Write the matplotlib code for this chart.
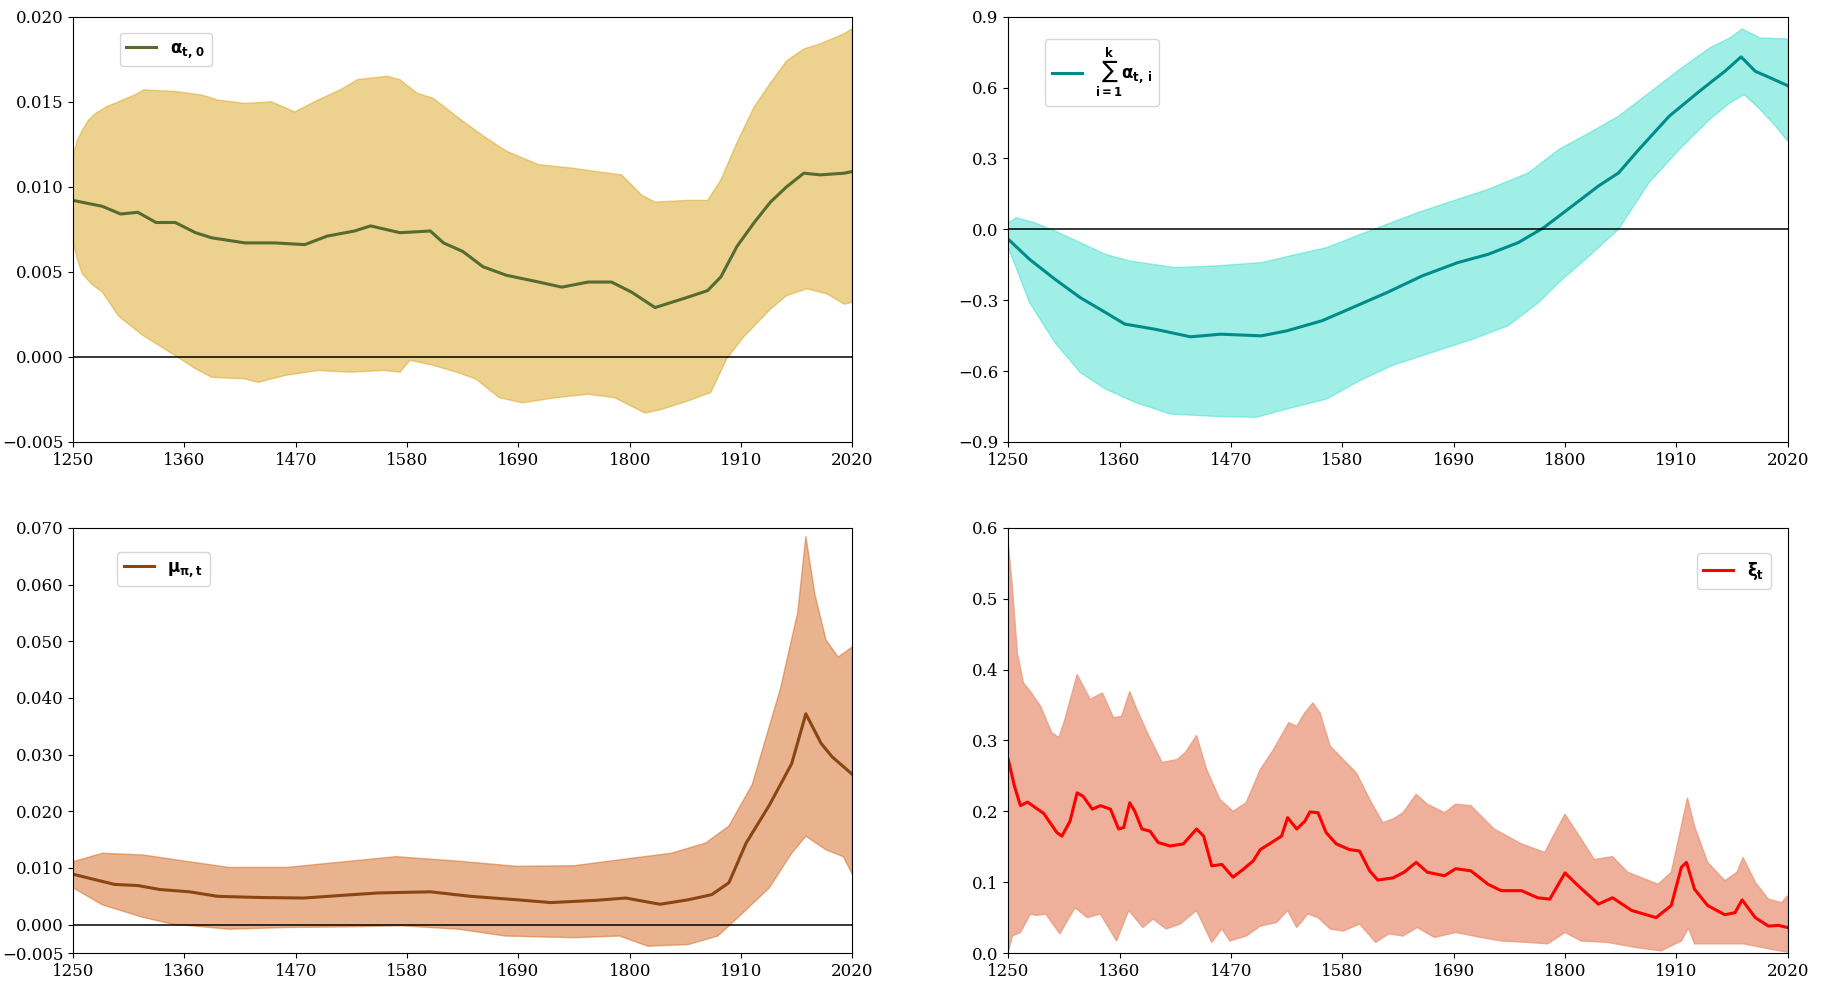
import numpy as np
import matplotlib
matplotlib.use("Agg")
import matplotlib.pyplot as plt
from matplotlib.ticker import FixedLocator, FuncFormatter

plt.rcParams['font.family'] = ['DejaVu Serif']
plt.rcParams['mathtext.fontset'] = 'dejavusans'

xticks = [1250, 1360, 1470, 1580, 1690, 1800, 1910, 2020]

# ---- alpha_{t,0} ----
a0_yr = [1250, 1279, 1297, 1314, 1332, 1351, 1371, 1387, 1420, 1449, 1479, 1501, 1528, 1544,
         1573, 1603, 1616, 1635, 1655, 1678, 1710, 1733, 1759, 1782, 1802, 1825, 1857, 1877,
         1890, 1906, 1923, 1939, 1955, 1972, 1988, 2012, 2020]
a0_mean = [0.0092, 0.00885, 0.0084, 0.0085, 0.0079, 0.0079, 0.0073, 0.0070, 0.0067, 0.0067,
           0.0066, 0.0071, 0.0074, 0.0077, 0.0073, 0.0074, 0.0067, 0.0062, 0.0053, 0.0048,
           0.0044, 0.0041, 0.0044, 0.0044, 0.0038, 0.0029, 0.0035, 0.0039, 0.0047, 0.0065,
           0.0079, 0.0091, 0.0100, 0.0108, 0.0107, 0.0108, 0.0109]
a0_hi_yr = [1250, 1254, 1259, 1265, 1272, 1283, 1295, 1311, 1320, 1351, 1377, 1393, 1420, 1446,
            1469, 1492, 1514, 1531, 1560, 1573, 1590, 1606, 1632, 1655, 1678, 1710, 1743, 1766,
            1792, 1812, 1825, 1857, 1877, 1890, 1906, 1923, 1939, 1955, 1972, 1988, 2012, 2020]
a0_hi = [0.0118, 0.0127, 0.0133, 0.0139, 0.0143, 0.0147, 0.0150, 0.0154, 0.0157, 0.0156,
         0.0154, 0.0151, 0.0149, 0.0150, 0.0144, 0.0151, 0.0157, 0.0163, 0.0165, 0.0163,
         0.0155, 0.0152, 0.0140, 0.0130, 0.0121, 0.0113, 0.0111, 0.0109, 0.0107, 0.0095,
         0.0091, 0.0092, 0.0092, 0.0104, 0.0126, 0.0147, 0.0161, 0.0174, 0.0181, 0.0184,
         0.0190, 0.0193]
a0_lo_yr = [1250, 1254, 1259, 1268, 1279, 1295, 1318, 1345, 1371, 1387, 1420, 1433, 1459, 1492,
            1524, 1557, 1573, 1583, 1606, 1629, 1648, 1671, 1694, 1727, 1759, 1785, 1815, 1831,
            1857, 1880, 1896, 1913, 1939, 1955, 1975, 1995, 2012, 2020]
a0_lo = [0.0068, 0.0058, 0.0049, 0.0043, 0.0038, 0.0024, 0.0013, 0.0003, -0.0007, -0.0012,
         -0.0013, -0.0015, -0.0011, -0.0008, -0.0009, -0.0008, -0.0009, -0.0002, -0.0005,
         -0.0009, -0.0013, -0.0024, -0.0027, -0.0024, -0.0022, -0.0024, -0.0033, -0.0031,
         -0.0026, -0.0021, -0.0001, 0.0012, 0.0028, 0.0036, 0.0040, 0.0037, 0.0031, 0.0032]

# ---- sum alpha_{t,i} ----
sa_yr = [1250, 1271, 1296, 1321, 1346, 1365, 1395, 1430, 1460, 1500, 1525, 1560, 1594, 1624,
         1659, 1694, 1724, 1754, 1779, 1803, 1833, 1853, 1873, 1903, 1933, 1958, 1974, 1988,
         2003, 2020]
sa_mean = [-0.042, -0.127, -0.211, -0.289, -0.352, -0.401, -0.423, -0.455, -0.444, -0.451,
           -0.430, -0.387, -0.324, -0.268, -0.197, -0.141, -0.106, -0.056, 0.007, 0.085,
           0.183, 0.239, 0.338, 0.479, 0.585, 0.669, 0.730, 0.669, 0.641, 0.608]
sa_hi_yr = [1250, 1258, 1276, 1296, 1321, 1346, 1370, 1415, 1455, 1500, 1535, 1565, 1594, 1624,
            1654, 1684, 1724, 1764, 1794, 1824, 1853, 1883, 1913, 1943, 1963, 1975, 1993, 2020]
sa_hi = [0.028, 0.049, 0.028, -0.007, -0.056, -0.106, -0.134, -0.162, -0.155, -0.141, -0.106,
         -0.077, -0.028, 0.021, 0.070, 0.113, 0.169, 0.239, 0.338, 0.408, 0.479, 0.577, 0.676,
         0.768, 0.810, 0.848, 0.810, 0.806]
sa_lo_yr = [1250, 1271, 1296, 1321, 1346, 1375, 1410, 1455, 1495, 1525, 1565, 1594, 1629, 1669,
            1709, 1744, 1774, 1794, 1824, 1853, 1883, 1913, 1943, 1963, 1977, 1993, 2008, 2020]
sa_lo = [-0.077, -0.310, -0.479, -0.606, -0.676, -0.732, -0.782, -0.792, -0.796, -0.761,
         -0.718, -0.648, -0.577, -0.521, -0.465, -0.408, -0.310, -0.225, -0.113, 0.000, 0.197,
         0.338, 0.465, 0.535, 0.570, 0.507, 0.437, 0.373]

# ---- mu_{pi,t} ----
mu_yr = [1250, 1291, 1314, 1336, 1365, 1393, 1433, 1478, 1518, 1552, 1603, 1643, 1688, 1722,
         1767, 1796, 1830, 1858, 1881, 1898, 1915, 1938, 1960, 1974, 1989, 2000, 2020]
mu_mean = [0.0089, 0.0071, 0.0069, 0.0062, 0.0058, 0.0050, 0.0048, 0.0047, 0.0052, 0.0056,
           0.0058, 0.0050, 0.0044, 0.0039, 0.0043, 0.0047, 0.0036, 0.0044, 0.0053, 0.0074,
           0.0144, 0.0211, 0.0284, 0.0372, 0.0320, 0.0296, 0.0265]
mu_hi_yr = [1250, 1279, 1319, 1365, 1404, 1461, 1518, 1569, 1631, 1688, 1745, 1801, 1841, 1875,
            1898, 1921, 1949, 1966, 1974, 1983, 1994, 2006, 2020]
mu_hi = [0.0111, 0.0126, 0.0123, 0.0111, 0.0101, 0.0101, 0.0111, 0.0120, 0.0112, 0.0103,
         0.0104, 0.0117, 0.0126, 0.0144, 0.0174, 0.0247, 0.0417, 0.0551, 0.0685, 0.0582,
         0.0502, 0.0472, 0.0490]
mu_lo_yr = [1250, 1279, 1319, 1348, 1404, 1461, 1518, 1574, 1631, 1677, 1745, 1790, 1818, 1858,
            1887, 1909, 1938, 1960, 1974, 1994, 2011, 2020]
mu_lo = [0.0065, 0.0035, 0.0013, 0.0001, -0.0008, -0.0005, -0.0004, -0.0002, -0.0008, -0.0020,
         -0.0023, -0.0020, -0.0038, -0.0035, -0.0020, 0.0016, 0.0065, 0.0126, 0.0156, 0.0132,
         0.0120, 0.0089]

# ---- xi_t ----
xi_yr = [1250, 1256, 1262, 1269, 1275, 1285, 1298, 1303, 1311, 1318, 1324, 1333, 1341, 1351,
         1359, 1364, 1370, 1375, 1382, 1390, 1398, 1410, 1423, 1436, 1443, 1451, 1461, 1472,
         1482, 1492, 1499, 1508, 1520, 1526, 1535, 1543, 1548, 1556, 1564, 1574, 1587, 1597,
         1607, 1615, 1630, 1641, 1653, 1664, 1681, 1692, 1707, 1724, 1737, 1757, 1773, 1785,
         1800, 1813, 1833, 1847, 1866, 1890, 1905, 1915, 1920, 1928, 1941, 1958, 1968, 1975,
         1988, 2001, 2011, 2020]
xi_mean = [0.273, 0.236, 0.208, 0.213, 0.207, 0.197, 0.170, 0.165, 0.186, 0.226, 0.221, 0.203,
           0.208, 0.203, 0.175, 0.177, 0.212, 0.200, 0.175, 0.172, 0.156, 0.151, 0.154, 0.175,
           0.165, 0.123, 0.125, 0.107, 0.118, 0.130, 0.146, 0.154, 0.165, 0.191, 0.175, 0.186,
           0.199, 0.198, 0.170, 0.154, 0.146, 0.144, 0.116, 0.103, 0.106, 0.114, 0.128, 0.114,
           0.109, 0.119, 0.116, 0.097, 0.088, 0.088, 0.078, 0.076, 0.113, 0.095, 0.069, 0.078,
           0.060, 0.050, 0.067, 0.121, 0.128, 0.090, 0.067, 0.054, 0.057, 0.075, 0.050, 0.038,
           0.039, 0.036]
xi_hi_yr = [1250, 1254, 1259, 1265, 1272, 1282, 1293, 1300, 1306, 1318, 1331, 1343, 1354, 1362,
            1370, 1377, 1389, 1402, 1417, 1425, 1436, 1446, 1459, 1472, 1485, 1499, 1512, 1527,
            1535, 1543, 1551, 1558, 1568, 1581, 1594, 1607, 1620, 1630, 1640, 1653, 1664, 1681,
            1692, 1707, 1730, 1757, 1780, 1800, 1816, 1829, 1847, 1862, 1892, 1905, 1915, 1921,
            1928, 1941, 1958, 1970, 1976, 1988, 2001, 2014, 2020]
xi_hi = [0.578, 0.517, 0.423, 0.381, 0.369, 0.348, 0.311, 0.304, 0.330, 0.393, 0.358, 0.367,
         0.332, 0.334, 0.369, 0.344, 0.306, 0.269, 0.273, 0.283, 0.307, 0.259, 0.217, 0.200,
         0.212, 0.259, 0.287, 0.325, 0.320, 0.339, 0.353, 0.339, 0.292, 0.273, 0.254, 0.217,
         0.184, 0.189, 0.198, 0.224, 0.210, 0.198, 0.210, 0.208, 0.175, 0.154, 0.142, 0.196,
         0.161, 0.132, 0.136, 0.114, 0.097, 0.114, 0.179, 0.219, 0.179, 0.128, 0.102, 0.114,
         0.135, 0.100, 0.076, 0.071, 0.081]
xi_lo_yr = [1250, 1254, 1262, 1272, 1278, 1287, 1301, 1316, 1328, 1341, 1357, 1369, 1383, 1393,
            1406, 1420, 1436, 1451, 1461, 1469, 1485, 1499, 1515, 1526, 1535, 1546, 1556, 1568,
            1581, 1597, 1613, 1626, 1640, 1654, 1671, 1692, 1717, 1737, 1763, 1783, 1800, 1816,
            1842, 1869, 1895, 1915, 1922, 1928, 1948, 1976, 1994, 2020]
xi_lo = [0.001, 0.024, 0.029, 0.055, 0.053, 0.055, 0.027, 0.064, 0.050, 0.055, 0.017, 0.060,
         0.036, 0.048, 0.034, 0.041, 0.060, 0.015, 0.034, 0.017, 0.024, 0.038, 0.043, 0.060,
         0.036, 0.055, 0.050, 0.034, 0.031, 0.041, 0.015, 0.027, 0.024, 0.036, 0.022, 0.029,
         0.022, 0.017, 0.015, 0.013, 0.029, 0.017, 0.015, 0.008, 0.003, 0.017, 0.035, 0.013,
         0.013, 0.013, 0.008, 0.001]

panels = [
    (a0_yr, a0_mean, a0_hi_yr, a0_hi, a0_lo_yr, a0_lo, 'darkolivegreen', 'goldenrod', 0.5,
     r'$\mathbf{\alpha_{t,\,0}}$', (-0.005, 0.020), [-0.005, 0, 0.005, 0.010, 0.015, 0.020], 3,
     'upper left', (0.06, 0.962), True),
    (sa_yr, sa_mean, sa_hi_yr, sa_hi, sa_lo_yr, sa_lo, 'darkcyan', 'turquoise', 0.5,
     r'$\sum_{\mathbf{i=1}}^{\mathbf{k}}\mathbf{\alpha_{t,\,i}}$', (-0.9, 0.9),
     [-0.9, -0.6, -0.3, 0, 0.3, 0.6, 0.9], 1,
     'upper left', (0.047, 0.947), True),
    (mu_yr, mu_mean, mu_hi_yr, mu_hi, mu_lo_yr, mu_lo, 'saddlebrown', 'chocolate', 0.5,
     r'$\mathbf{\mu_{\pi,t}}$', (-0.005, 0.070),
     [-0.005, 0, 0.01, 0.02, 0.03, 0.04, 0.05, 0.06, 0.07], 3,
     'upper left', (0.057, 0.942), True),
    (xi_yr, xi_mean, xi_hi_yr, xi_hi, xi_lo_yr, xi_lo, 'red', 'darksalmon', 0.75,
     r'$\mathbf{\xi_{t}}$', (0.0, 0.6), [0, 0.1, 0.2, 0.3, 0.4, 0.5, 0.6], 1,
     'upper right', (0.978, 0.94), False),
]


def make_fmt(nd):
    return FuncFormatter(lambda v, pos: f"{v:.{nd}f}".replace('-', '\u2212'))


fig, axes = plt.subplots(2, 2, figsize=(18.26, 9.82), dpi=100)
fig.subplots_adjust(left=0.040, right=0.979, top=0.983, bottom=0.0295, wspace=0.2, hspace=0.202)

for ax, p in zip(axes.flat, panels):
    (yr, mean, hyr, hi, lyr, lo, lc, fc, fa, label, ylim, yt, nd, loc, anchor, zline) = p
    poly_x = np.concatenate([hyr, lyr[::-1]])
    poly_y = np.concatenate([hi, lo[::-1]])
    ax.fill(poly_x, poly_y, color=fc, alpha=fa, lw=1)
    ax.plot(yr, mean, color=lc, lw=2.2, label=label)
    if zline:
        ax.axhline(0, color='black', lw=1.1)
    ax.set_xlim(1250, 2020)
    ax.set_ylim(*ylim)
    ax.xaxis.set_major_locator(FixedLocator(xticks))
    ax.yaxis.set_major_locator(FixedLocator(yt))
    ax.yaxis.set_major_formatter(make_fmt(nd))
    ax.tick_params(labelsize=12)
    ax.legend(loc=loc, bbox_to_anchor=anchor, borderaxespad=0, fontsize=12, handlelength=1.8)

fig.savefig('out.png', dpi=100)
